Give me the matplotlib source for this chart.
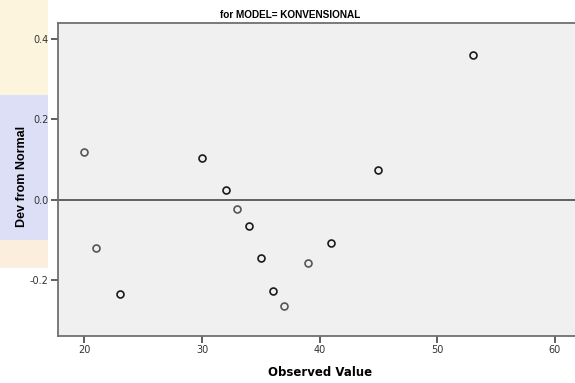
import matplotlib
matplotlib.use("Agg")
import matplotlib.pyplot as plt
from matplotlib.patches import Rectangle

# Data
observed = [20, 21, 23, 30, 32, 33, 34, 35, 36, 37, 39, 41, 45, 53]
deviation = [0.118, -0.120, -0.236, 0.103, 0.025, -0.024, -0.066, -0.146,
             -0.227, -0.264, -0.159, -0.108, 0.073, 0.359]
dark = [False, False, True, True, True, False, True, True, True, False,
        False, True, True, True]
x_ticks = [20, 30, 40, 50, 60]
y_ticks = [-0.2, 0.0, 0.2, 0.4]
title = "for MODEL= KONVENSIONAL"
xlabel = "Observed Value"
ylabel = "Dev from Normal"

W, H = 575, 383
fig = plt.figure(figsize=(W / 100, H / 100), dpi=100)

# faint watermark on the left, kept behind everything
wm = fig.add_axes([0, 0, 1, 1], zorder=-5)
wm.set_xlim(0, W)
wm.set_ylim(H, 0)
wm.axis("off")
wm.add_patch(Rectangle((0, 0), 48, 95, facecolor="#FCF4DC", edgecolor="none"))
wm.add_patch(Rectangle((0, 95), 48, 145, facecolor="#DCDFF5", edgecolor="none"))
wm.add_patch(Rectangle((0, 240), 48, 28, facecolor="#FCEEDC", edgecolor="none"))

left, right = 58.3, 575
top, bottom = 23.3, 335.7
ax = fig.add_axes([left / W, 1 - bottom / H, (right - left) / W, (bottom - top) / H], zorder=1)
ax.set_facecolor("#F0F0F0")

for x, y, d in zip(observed, deviation, dark):
    ax.plot(x, y, "o", markersize=5, markerfacecolor="none",
            markeredgecolor="#1a1a1a" if d else "#555555", markeredgewidth=1.2, zorder=3)

ax.axhline(0, color="#555555", linewidth=1.3, zorder=2)

ax.set_xlim(17.79, 61.7)
ax.set_ylim(-0.339, 0.439)
ax.set_xticks(x_ticks)
ax.set_xticklabels([str(t) for t in x_ticks])
ax.set_yticks(y_ticks)
ax.set_yticklabels([f"{t:.1f}" for t in y_ticks])

for s in ["left", "bottom", "top"]:
    ax.spines[s].set_color("#707070")
    ax.spines[s].set_linewidth(1.3)
ax.spines["right"].set_visible(False)

ax.tick_params(axis="both", direction="out", length=5, width=1.1, color="#333333",
               labelsize=7, labelcolor="#333333", pad=2)
for lab in ax.get_xticklabels() + ax.get_yticklabels():
    lab.set_fontfamily("DejaVu Sans")

fig.text(290.5 / W, 1 - 15 / H, title, ha="center", va="center", fontsize=7.2,
         fontweight="bold", family="Liberation Sans")
fig.text(320 / W, 1 - 372 / H, xlabel, ha="center", va="center", fontsize=8.5,
         fontweight="bold", family="DejaVu Sans")
fig.text(22 / W, 1 - 176 / H, ylabel, ha="center", va="center", rotation=90,
         fontsize=9, fontweight="bold", family="Liberation Sans")

fig.savefig("out.png", dpi=100)
